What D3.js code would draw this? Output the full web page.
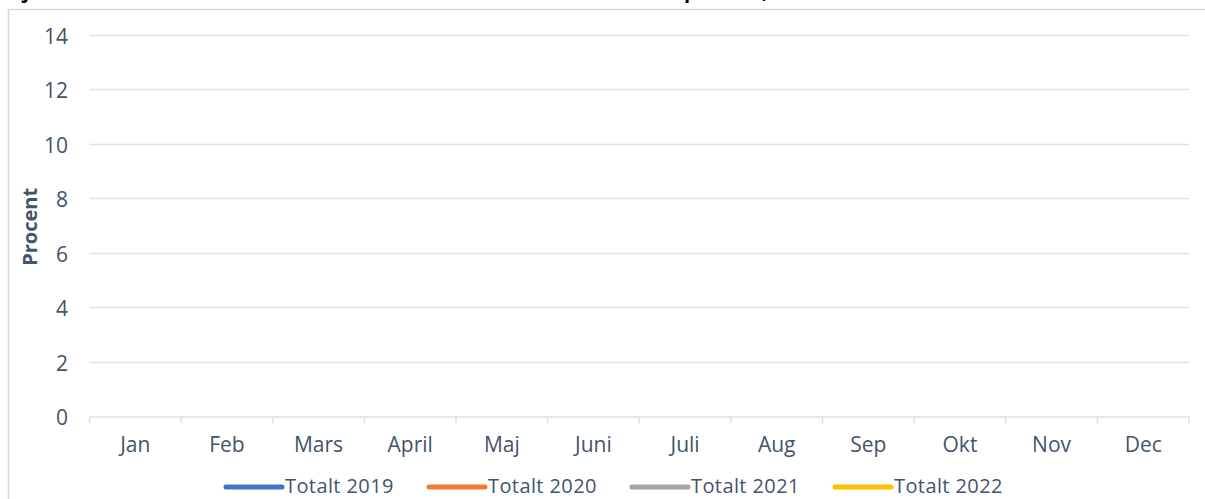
<!DOCTYPE html>
<html>
<head>
<meta charset="utf-8">
<script src="https://cdn.jsdelivr.net/npm/d3@7"></script>
<style>
  body { margin: 0; background: #fff; }
  svg { display: block; font-family: "Open Sans", sans-serif; }
</style>
</head>
<body>
<svg width="1205" height="499"></svg>
<script>
// month categories
var months = ['Jan', 'Feb', 'Mars', 'April', 'Maj', 'Juni', 'Juli', 'Aug', 'Sep', 'Okt', 'Nov', 'Dec'];
// series (no values shown in the chart)
var series = ['Totalt 2019', 'Totalt 2020', 'Totalt 2021', 'Totalt 2022'];
var values2019 = [null, null, null, null, null, null, null, null, null, null, null, null];
var values2020 = [null, null, null, null, null, null, null, null, null, null, null, null];
var values2021 = [null, null, null, null, null, null, null, null, null, null, null, null];
var values2022 = [null, null, null, null, null, null, null, null, null, null, null, null];
var yTicks = [0, 2, 4, 6, 8, 10, 12, 14];
var colors = ['#4472C4', '#ED7D31', '#A5A5A5', '#FFC000'];

var svg = d3.select('svg');
var textCol = '#44546A';

// title, cut off at the top edge like in the original
var title = svg.append('text')
  .attr('y', -2)
  .attr('font-weight', 'bold')
  .attr('font-size', 20)
  .attr('fill', '#000');
title.append('tspan').attr('x', 12).text('Sjukfrånvaro totalt för alla anställda i kommunen i');
title.append('tspan').attr('x', 684).text('procent, 2019–2022');

// chart frame
svg.append('rect')
  .attr('x', 8.5).attr('y', 9.5)
  .attr('width', 1220).attr('height', 520)
  .attr('fill', 'none')
  .attr('stroke', '#d9d9d9')
  .attr('stroke-width', 1.5);

var x = d3.scaleBand().domain(months).range([89.5, 1189]);
var y = d3.scaleLinear().domain([0, 14]).range([416, 35]);

// gridlines
svg.append('g')
  .selectAll('line')
  .data(yTicks.filter(function (d) { return d > 0; }))
  .enter()
  .append('line')
  .attr('x1', 89.5)
  .attr('x2', 1189)
  .attr('y1', function (d) { return Math.round(y(d)) + 0.5; })
  .attr('y2', function (d) { return Math.round(y(d)) + 0.5; })
  .attr('stroke', '#dde1e7')
  .attr('stroke-width', 1.5);

// y labels
svg.append('g')
  .selectAll('text')
  .data(yTicks)
  .enter()
  .append('text')
  .attr('x', 68)
  .attr('y', function (d) { return y(d) + 9; })
  .attr('text-anchor', 'end')
  .attr('font-size', 21)
  .attr('fill', textCol)
  .text(function (d) { return d; });

// x axis
var xAxis = svg.append('g')
  .attr('transform', 'translate(0,' + (Math.round(y(0)) + 0.5) + ')')
  .call(d3.axisBottom(x).tickSize(0).tickPadding(21));
xAxis.select('.domain').attr('stroke', '#dde1e7').attr('stroke-width', 1.5);
xAxis.selectAll('text').attr('font-size', 21).attr('fill', textCol).attr('font-family', '"Open Sans", sans-serif');
// tick marks at the category boundaries
xAxis.append('g')
  .selectAll('line')
  .data(months.concat(['end']))
  .enter()
  .append('line')
  .attr('x1', function (d, i) { return x(months[0]) + i * x.step(); })
  .attr('x2', function (d, i) { return x(months[0]) + i * x.step(); })
  .attr('y1', 0)
  .attr('y2', 7)
  .attr('stroke', '#dde1e7')
  .attr('stroke-width', 1.5);

// y title
svg.append('text')
  .attr('transform', 'translate(37,' + y(6.95) + ') rotate(-90)')
  .attr('text-anchor', 'middle')
  .attr('font-weight', 'bold')
  .attr('font-size', 20)
  .attr('fill', textCol)
  .text('Procent');

// lines (empty data)
var allValues = [values2019, values2020, values2021, values2022];
var line = d3.line()
  .defined(function (d) { return d != null; })
  .x(function (d, i) { return x(months[i]) + x.bandwidth() / 2; })
  .y(function (d) { return y(d); });
svg.append('g')
  .selectAll('path')
  .data(allValues)
  .enter()
  .append('path')
  .attr('d', line)
  .attr('fill', 'none')
  .attr('stroke', function (d, i) { return colors[i]; })
  .attr('stroke-width', 4);

// legend
var leg = svg.append('g')
  .selectAll('g')
  .data(series)
  .enter()
  .append('g')
  .attr('transform', function (d, i) { return 'translate(' + (226 + i * 203) + ',487)'; });
leg.append('line')
  .attr('x1', 0).attr('x2', 56)
  .attr('stroke', function (d, i) { return colors[i]; })
  .attr('stroke-width', 5)
  .attr('stroke-linecap', 'round');
leg.append('text')
  .attr('x', 59)
  .attr('y', 6)
  .attr('font-size', 20)
  .attr('letter-spacing', 0.4)
  .attr('fill', textCol)
  .text(function (d) { return d; });
</script>
</body>
</html>
